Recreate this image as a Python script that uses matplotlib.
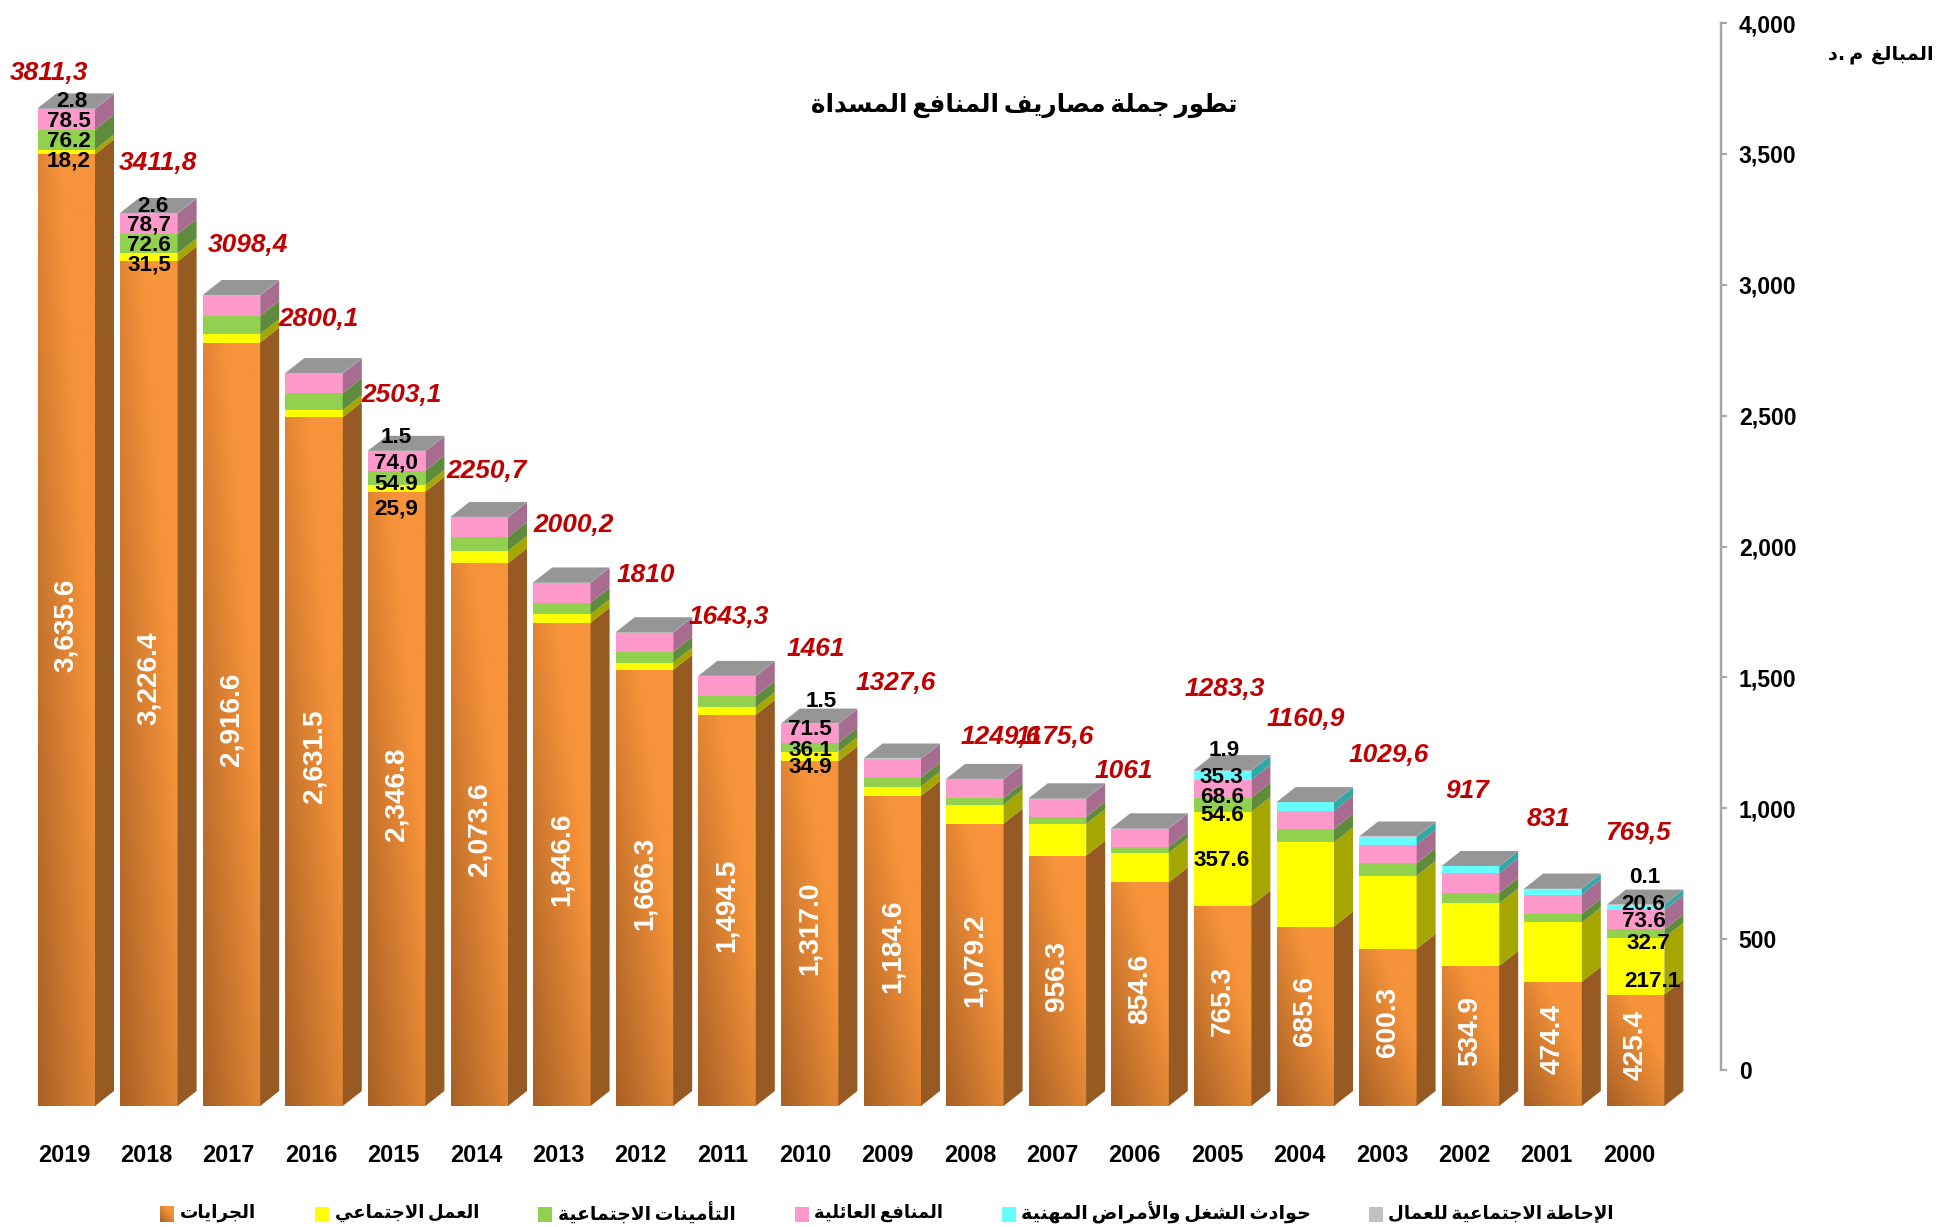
import numpy as np
import matplotlib
matplotlib.use('Agg')
import matplotlib.pyplot as plt
from matplotlib.ticker import StrMethodFormatter
from matplotlib.transforms import Affine2D

plt.rcParams['font.family'] = ['Liberation Sans', 'DejaVu Sans']

# data, newest year first like the picture
years = [2019, 2018, 2017, 2016, 2015, 2014, 2013, 2012, 2011, 2010,
         2009, 2008, 2007, 2006, 2005, 2004, 2003, 2002, 2001, 2000]
salaries = [3635.6, 3226.4, 2916.6, 2631.5, 2346.8, 2073.6, 1846.6, 1666.3, 1494.5, 1317.0,
            1184.6, 1079.2, 956.3, 854.6, 765.3, 685.6, 600.3, 534.9, 474.4, 425.4]
social_work = [18.2, 31.5, 32.0, 27.0, 25.9, 47.5, 31.5, 28.0, 29.0, 34.9,
               36.0, 72.0, 121.0, 112.0, 357.6, 322.0, 279.0, 239.0, 227.0, 217.1]
insurance = [76.2, 72.6, 70.0, 65.0, 54.9, 53.0, 44.6, 40.0, 42.0, 36.1,
             34.0, 25.0, 28.0, 23.0, 54.6, 51.0, 48.0, 40.0, 33.0, 32.7]
family = [78.5, 78.7, 77.5, 74.5, 74.0, 75.0, 76.0, 74.0, 76.0, 71.5,
          71.5, 72.0, 68.5, 70.0, 68.6, 70.0, 71.0, 75.0, 73.5, 73.6]
accidents = [0, 0, 0, 0, 0, 0, 0, 0, 0, 0,
             0, 0, 0, 0, 35.3, 31.0, 30.0, 27.0, 22.0, 20.6]
retirement = [2.8, 2.6, 2.3, 2.1, 1.5, 1.5, 1.5, 1.7, 1.8, 1.5,
              1.5, 1.4, 1.8, 1.4, 1.9, 1.3, 1.3, 1.1, 1.1, 0.1]
total_labels = ['3811,3', '3411,8', '3098,4', '2800,1', '2503,1', '2250,7', '2000,2', '1810', '1643,3', '1461',
                '1327,6', '1249,6', '1175,6', '1061', '1283,3', '1160,9', '1029,6', '917', '831', '769,5']
y_ticks = [0, 500, 1000, 1500, 2000, 2500, 3000, 3500, 4000]

title = 'تطور جملة مصاريف المنافع المسداة'
unit_label = 'المبالغ  م .د'
legend_names = ['الجرايات', 'العمل الاجتماعي', 'التأمينات الاجتماعية', 'المنافع العائلية',
                'حوادث الشغل والأمراض المهنية', 'الإحاطة الاجتماعية للعمال']

# label text + where it sits in the image (px)
total_label_px = [(49, 71), (158, 162), (248, 244), (319, 318), (402, 393), (487, 469), (574, 524), (646, 573),
                  (729, 615), (816, 648), (896, 682), (1001, 735), (1055, 735), (1124, 770), (1225, 687),
                  (1306, 718), (1389, 753), (1467, 790), (1549, 817), (1638, 832)]
small_labels = [
    ('2.8', 72, 100), ('78.5', 69, 120), ('76.2', 69, 140), ('18,2', 69, 159),
    ('2.6', 153, 205), ('78,7', 149, 224), ('72.6', 149, 244), ('31,5', 149, 264),
    ('1.5', 396, 436), ('74,0', 396, 462), ('54.9', 396, 483), ('25,9', 396, 507),
    ('1.5', 821, 700), ('71.5', 810, 728), ('36.1', 810, 749), ('34.9', 810, 766),
    ('1.9', 1224, 749), ('35.3', 1221, 776), ('68.6', 1222, 796), ('54.6', 1222, 814), ('357.6', 1222, 859),
    ('0.1', 1645, 876), ('20.6', 1643, 903), ('73.6', 1644, 920), ('32.7', 1648, 942), ('217.1', 1652, 980),
]

W, H = 1938, 1227
PT = 72 / 100  # px to pt at dpi 100

# layout in px
BASE_Y = 1106
AXIS_ZERO_Y = 1070
AXIS_TOP_Y = 23
PX_PER_UNIT = (AXIS_ZERO_Y - AXIS_TOP_Y) / 4000
FIRST_LEFT = 37.5
STEP = 82.6
BAR_W = 57.5
DEPTH_X = 19
DEPTH_Y = 15


# matplotlib does no arabic shaping, so pick the presentation forms by hand
# letter: (isolated, final, initial, medial)
FORMS = {
    'ء': ('\uFE80',) * 4, 'آ': ('\uFE81', '\uFE82') * 2, 'أ': ('\uFE83', '\uFE84') * 2,
    'ؤ': ('\uFE85', '\uFE86') * 2, 'إ': ('\uFE87', '\uFE88') * 2,
    'ئ': ('\uFE89', '\uFE8A', '\uFE8B', '\uFE8C'), 'ا': ('\uFE8D', '\uFE8E') * 2,
    'ب': ('\uFE8F', '\uFE90', '\uFE91', '\uFE92'), 'ة': ('\uFE93', '\uFE94') * 2,
    'ت': ('\uFE95', '\uFE96', '\uFE97', '\uFE98'), 'ث': ('\uFE99', '\uFE9A', '\uFE9B', '\uFE9C'),
    'ج': ('\uFE9D', '\uFE9E', '\uFE9F', '\uFEA0'), 'ح': ('\uFEA1', '\uFEA2', '\uFEA3', '\uFEA4'),
    'خ': ('\uFEA5', '\uFEA6', '\uFEA7', '\uFEA8'), 'د': ('\uFEA9', '\uFEAA') * 2,
    'ذ': ('\uFEAB', '\uFEAC') * 2, 'ر': ('\uFEAD', '\uFEAE') * 2, 'ز': ('\uFEAF', '\uFEB0') * 2,
    'س': ('\uFEB1', '\uFEB2', '\uFEB3', '\uFEB4'), 'ش': ('\uFEB5', '\uFEB6', '\uFEB7', '\uFEB8'),
    'ص': ('\uFEB9', '\uFEBA', '\uFEBB', '\uFEBC'), 'ض': ('\uFEBD', '\uFEBE', '\uFEBF', '\uFEC0'),
    'ط': ('\uFEC1', '\uFEC2', '\uFEC3', '\uFEC4'), 'ظ': ('\uFEC5', '\uFEC6', '\uFEC7', '\uFEC8'),
    'ع': ('\uFEC9', '\uFECA', '\uFECB', '\uFECC'), 'غ': ('\uFECD', '\uFECE', '\uFECF', '\uFED0'),
    'ف': ('\uFED1', '\uFED2', '\uFED3', '\uFED4'), 'ق': ('\uFED5', '\uFED6', '\uFED7', '\uFED8'),
    'ك': ('\uFED9', '\uFEDA', '\uFEDB', '\uFEDC'), 'ل': ('\uFEDD', '\uFEDE', '\uFEDF', '\uFEE0'),
    'م': ('\uFEE1', '\uFEE2', '\uFEE3', '\uFEE4'), 'ن': ('\uFEE5', '\uFEE6', '\uFEE7', '\uFEE8'),
    'ه': ('\uFEE9', '\uFEEA', '\uFEEB', '\uFEEC'), 'و': ('\uFEED', '\uFEEE') * 2,
    'ى': ('\uFEEF', '\uFEF0') * 2, 'ي': ('\uFEF1', '\uFEF2', '\uFEF3', '\uFEF4'),
}
NO_JOIN_AFTER = set('ءآأؤإادذرزةوى')
LAM_ALEF = {'آ': ('\uFEF5', '\uFEF6'), 'أ': ('\uFEF7', '\uFEF8'), 'إ': ('\uFEF9', '\uFEFA'), 'ا': ('\uFEFB', '\uFEFC')}


def shape(text):
    out = []
    i = 0
    while i < len(text):
        c = text[i]
        if c not in FORMS:
            out.append(c)
            i += 1
            continue
        prev = text[i - 1] if i > 0 else ' '
        joins_prev = prev in FORMS and prev not in NO_JOIN_AFTER
        if c == 'ل' and i + 1 < len(text) and text[i + 1] in LAM_ALEF:
            out.append(LAM_ALEF[text[i + 1]][1 if joins_prev else 0])
            i += 2
            continue
        nxt = text[i + 1] if i + 1 < len(text) else ' '
        joins_next = c not in NO_JOIN_AFTER and nxt in FORMS
        if joins_prev and joins_next:
            out.append(FORMS[c][3])
        elif joins_prev:
            out.append(FORMS[c][1])
        elif joins_next:
            out.append(FORMS[c][2])
        else:
            out.append(FORMS[c][0])
        i += 1
    # thin spaces: the reference font has much narrower word gaps than DejaVu
    return ''.join(out)[::-1].replace(' ', '\u2009')


fig = plt.figure(figsize=(W / 100, H / 100), dpi=100, facecolor='white')
px = Affine2D().scale(1, -1).translate(0, H)

# main axes fill the figure: x is the bar index, y is the value
ax = fig.add_axes([0, 0, 1, 1])
ax.axis('off')
xlim = (-(FIRST_LEFT + BAR_W / 2) / STEP, (W - FIRST_LEFT - BAR_W / 2) / STEP)
ylim = (-(H - BASE_Y) / PX_PER_UNIT, BASE_Y / PX_PER_UNIT)

bar_w = BAR_W / STEP
dx = DEPTH_X / STEP
dy = DEPTH_Y / PX_PER_UNIT

# orange front: dark bottom-left corner to light top-right
u, v = np.meshgrid(np.linspace(0, 1, 40), np.linspace(1, 0, 200))
t = np.clip(0.72 * u + 0.72 * v, 0, 1)[..., None]
orange_dark = np.array([168, 97, 37]) / 255
orange_light = np.array([247, 147, 58]) / 255
orange_img = orange_dark + (orange_light - orange_dark) * t

stack = [salaries, social_work, insurance, family, accidents, retirement]
front_colors = ['#e8873a', '#ffff00', '#92d050', '#ff99cc', '#66ffff', '#c0c0c0']
side_colors = ['#965a22', '#a6a600', '#5f8c3c', '#a86c90', '#33a6a6', '#808080']
top_color = '#969696'

for i in range(len(years)):
    left = i - bar_w / 2
    right = i + bar_w / 2
    y0 = 0
    for s, series in enumerate(stack):
        h = series[i]
        if h <= 0:
            continue
        if s == 0:
            ax.imshow(orange_img, extent=(left, right, 0, h), aspect='auto', zorder=2, interpolation='bilinear')
        else:
            ax.bar(i, h, bar_w, bottom=y0, color=front_colors[s], linewidth=0, zorder=2)
        ax.fill([right, right + dx, right + dx, right],
                [y0, y0 + dy, y0 + h + dy, y0 + h],
                color=side_colors[s], linewidth=0, zorder=2)
        y0 += h
    ax.fill([left, right, right + dx, left + dx],
            [y0, y0, y0 + dy, y0 + dy],
            color=top_color, linewidth=0, zorder=2)
    # white value on the orange part, a little above its middle
    ax.text(i, salaries[i] / 2 + 5 / PX_PER_UNIT, f'{salaries[i]:,.1f}', color='white', rotation=90,
            ha='center', va='center', fontsize=28 * PT, fontweight='bold', zorder=3)

ax.set_xlim(*xlim)
ax.set_ylim(*ylim)

for lab, (x, y) in zip(total_labels, total_label_px):
    ax.text(x, y + 1.5, lab, transform=px, color='#c00000', ha='center', va='center',
            fontsize=26.3 * PT, fontweight='bold', fontstyle='italic', zorder=4)

for lab, x, y in small_labels:
    ax.text(x, y + 1.5, lab, transform=px, color='black', ha='center', va='center',
            fontsize=22.5 * PT, fontweight='bold', zorder=4)

for i, year in enumerate(years):
    ax.text(64 + 82.37 * i, 1156, str(year), transform=px, ha='center', va='center',
            fontsize=23.5 * PT, fontweight='bold')

# value axis sits higher than the front of the bars
ax2 = fig.add_axes([1721 / W, (H - AXIS_ZERO_Y) / H, 0.0004, (AXIS_ZERO_Y - AXIS_TOP_Y) / H])
ax2.patch.set_visible(False)
ax2.set_ylim(0, 4000)
ax2.set_xticks([])
ax2.set_yticks(y_ticks)
ax2.yaxis.set_major_formatter(StrMethodFormatter('{x:,.0f}'))
ax2.yaxis.tick_right()
ax2.tick_params(axis='y', length=5 * PT, width=1.5, color='#a6a6a6', pad=12 * PT, labelsize=23 * PT)
for lab in ax2.get_yticklabels():
    lab.set_fontweight('bold')
for name in ['top', 'bottom', 'right']:
    ax2.spines[name].set_visible(False)
ax2.spines['left'].set_color('#a6a6a6')
ax2.spines['left'].set_linewidth(2.5 * PT)

renderer = fig.canvas.get_renderer()


def arabic_text(s, x0, x1, yc, start=20):
    # size the text so it spans x0..x1 like the reference
    txt = ax.text((x0 + x1) / 2, yc, shape(s), transform=px, ha='center', va='center',
                  family='DejaVu Sans', fontweight='bold', fontsize=start * PT, color='black')
    w = txt.get_window_extent(renderer).width
    txt.set_fontsize(start * PT * (x1 - x0) / w)
    return txt


arabic_text(title, 810, 1238, 105)
arabic_text(unit_label, 1828, 1933, 55)

# legend, laid out by hand like the reference row
legend_colors = [None, '#ffff00', '#92d050', '#ff99cc', '#66ffff', '#c0c0c0']
legend_box_x = [160, 315, 538, 795, 1002, 1369]
legend_text_x = [(180, 256), (335, 479), (558, 735), (814, 942), (1021, 1310), (1388, 1614)]
to_data = ax.transData.inverted()
for name, col, bx, (tx0, tx1) in zip(legend_names, legend_colors, legend_box_x, legend_text_x):
    (xa, ya), (xb, yb) = to_data.transform([(bx, H - 1222), (bx + 14, H - 1207)])
    if col is None:
        ax.imshow(orange_img, extent=(xa, xb, ya, yb), aspect='auto', zorder=2)
    else:
        ax.fill([xa, xb, xb, xa], [ya, ya, yb, yb], color=col, linewidth=0, zorder=2)
    arabic_text(name, tx0, tx1, 1213)
ax.set_xlim(*xlim)
ax.set_ylim(*ylim)

fig.savefig('out.png', dpi=100)
